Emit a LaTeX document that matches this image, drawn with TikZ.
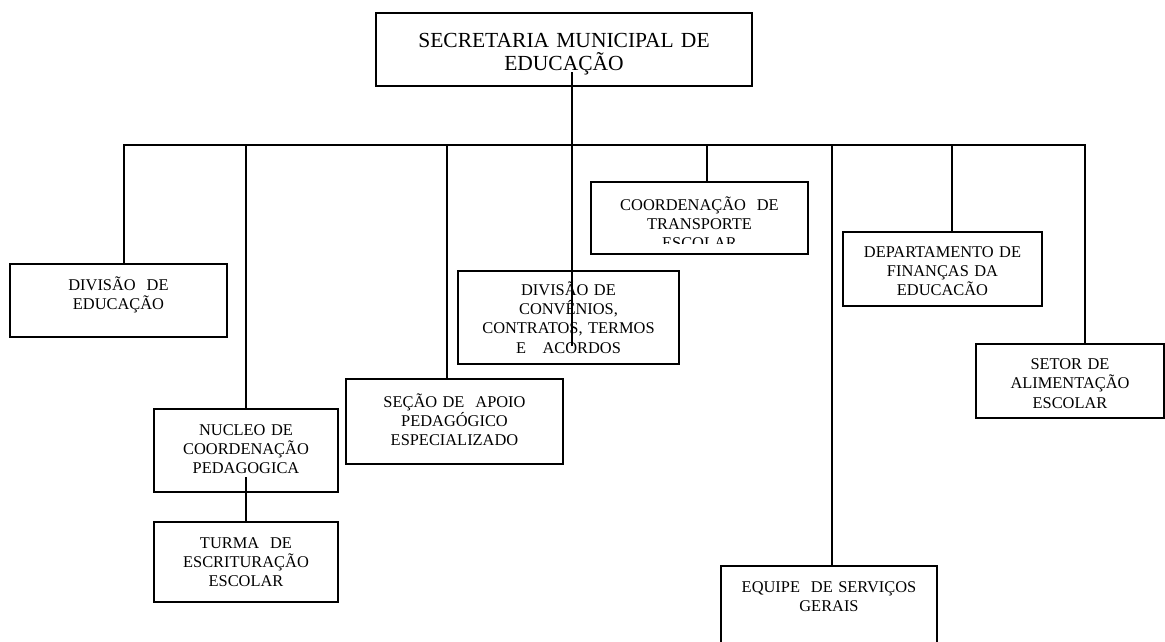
\documentclass[tikz,border=0pt]{standalone}
\usepackage{fontspec}
\setmainfont{Liberation Serif}
\usetikzlibrary{calc}

\begin{document}
\begin{tikzpicture}
	[x=1pt,y=-1pt,every node/.style={draw,rectangle,line width=1.1pt,inner sep=0pt,outer sep=0pt,align=center,anchor=north west,font=\fontsize{16.4}{19.3}\selectfont}]
	\tikzset{link/.style = {line width=2pt,line cap=rect}}
	\clip (0,0) rectangle (1165,641);
	\node[text width=376pt,text height=34pt,text depth=39pt,font=\fontsize{21.5}{23.5}\selectfont] (sec) at (376,13) {SECRETARIA MUNICIPAL DE\\EDUCAÇÃO};
	\node[text width=217pt,text height=26.3pt,text depth=46.7pt] (divedu) at (10,264) {DIVISÃO~ DE\\EDUCAÇÃO};
	\node[text width=184pt,text height=26.3pt,text depth=56.7pt] (nucleo) at (154,409) {NUCLEO DE\\COORDENAÇÃO\\PEDAGOGICA};
	\node[text width=184pt,text height=26pt,text depth=54pt] (turma) at (154,522) {TURMA~ DE\\ESCRITURAÇÃO\\ESCOLAR};
	\node[text width=217pt,text height=28pt,text depth=57pt] (secao) at (346,379) {SEÇÃO DE~ APOIO\\PEDAGÓGICO\\ESPECIALIZADO};
	\node[text width=221pt,text height=24.3pt,text depth=68.7pt] (conv) at (458,271) {DIVISÃO DE\\CONVÊNIOS,\\CONTRATOS, TERMOS\\E~~ ACORDOS};
	\begin{scope}
		\clip (585,175) rectangle (815,243);
		\node[text width=217pt,text height=28.3pt,text depth=43.7pt] (transp) at (591,182) {COORDENAÇÃO~ DE\\TRANSPORTE\\ESCOLAR};
	\end{scope}
	\draw[line width=1.1pt] (transp.north west) rectangle (transp.south east);
	\node[text width=216pt,text height=26pt,text depth=68pt] (equipe) at (721,566) {EQUIPE~ DE SERVIÇOS\\GERAIS};
	\node[text width=199pt,text height=25pt,text depth=49pt] (dept) at (843,232) {DEPARTAMENTO DE\\FINANÇAS DA\\EDUCACÃO};
	\node[text width=188pt,text height=25.6pt,text depth=48.4pt] (setor) at (976,344) {SETOR DE\\ALIMENTAÇÃO\\ESCOLAR};
	
	\foreach \n/\x in {1/124,2/246,3/447,4/572,5/707,6/832,7/952,8/1085}
	\coordinate (b\n) at (\x,145);
	\draw[link] (b1) -- (b8);
	\foreach \b/\n in {b1/divedu,b2/nucleo,b3/secao,b5/transp,b6/equipe,b7/dept,b8/setor}
	\draw[link] (\b) -- (\n.north -| \b);
	\draw[link] ($(sec.south -| b4)+(0,-13)$) -- ($(conv.south -| b4)+(0,-19)$);
	\draw[link] ($(nucleo.south -| b2)+(0,-14)$) -- (turma.north -| b2);
\end{tikzpicture}
\end{document}
